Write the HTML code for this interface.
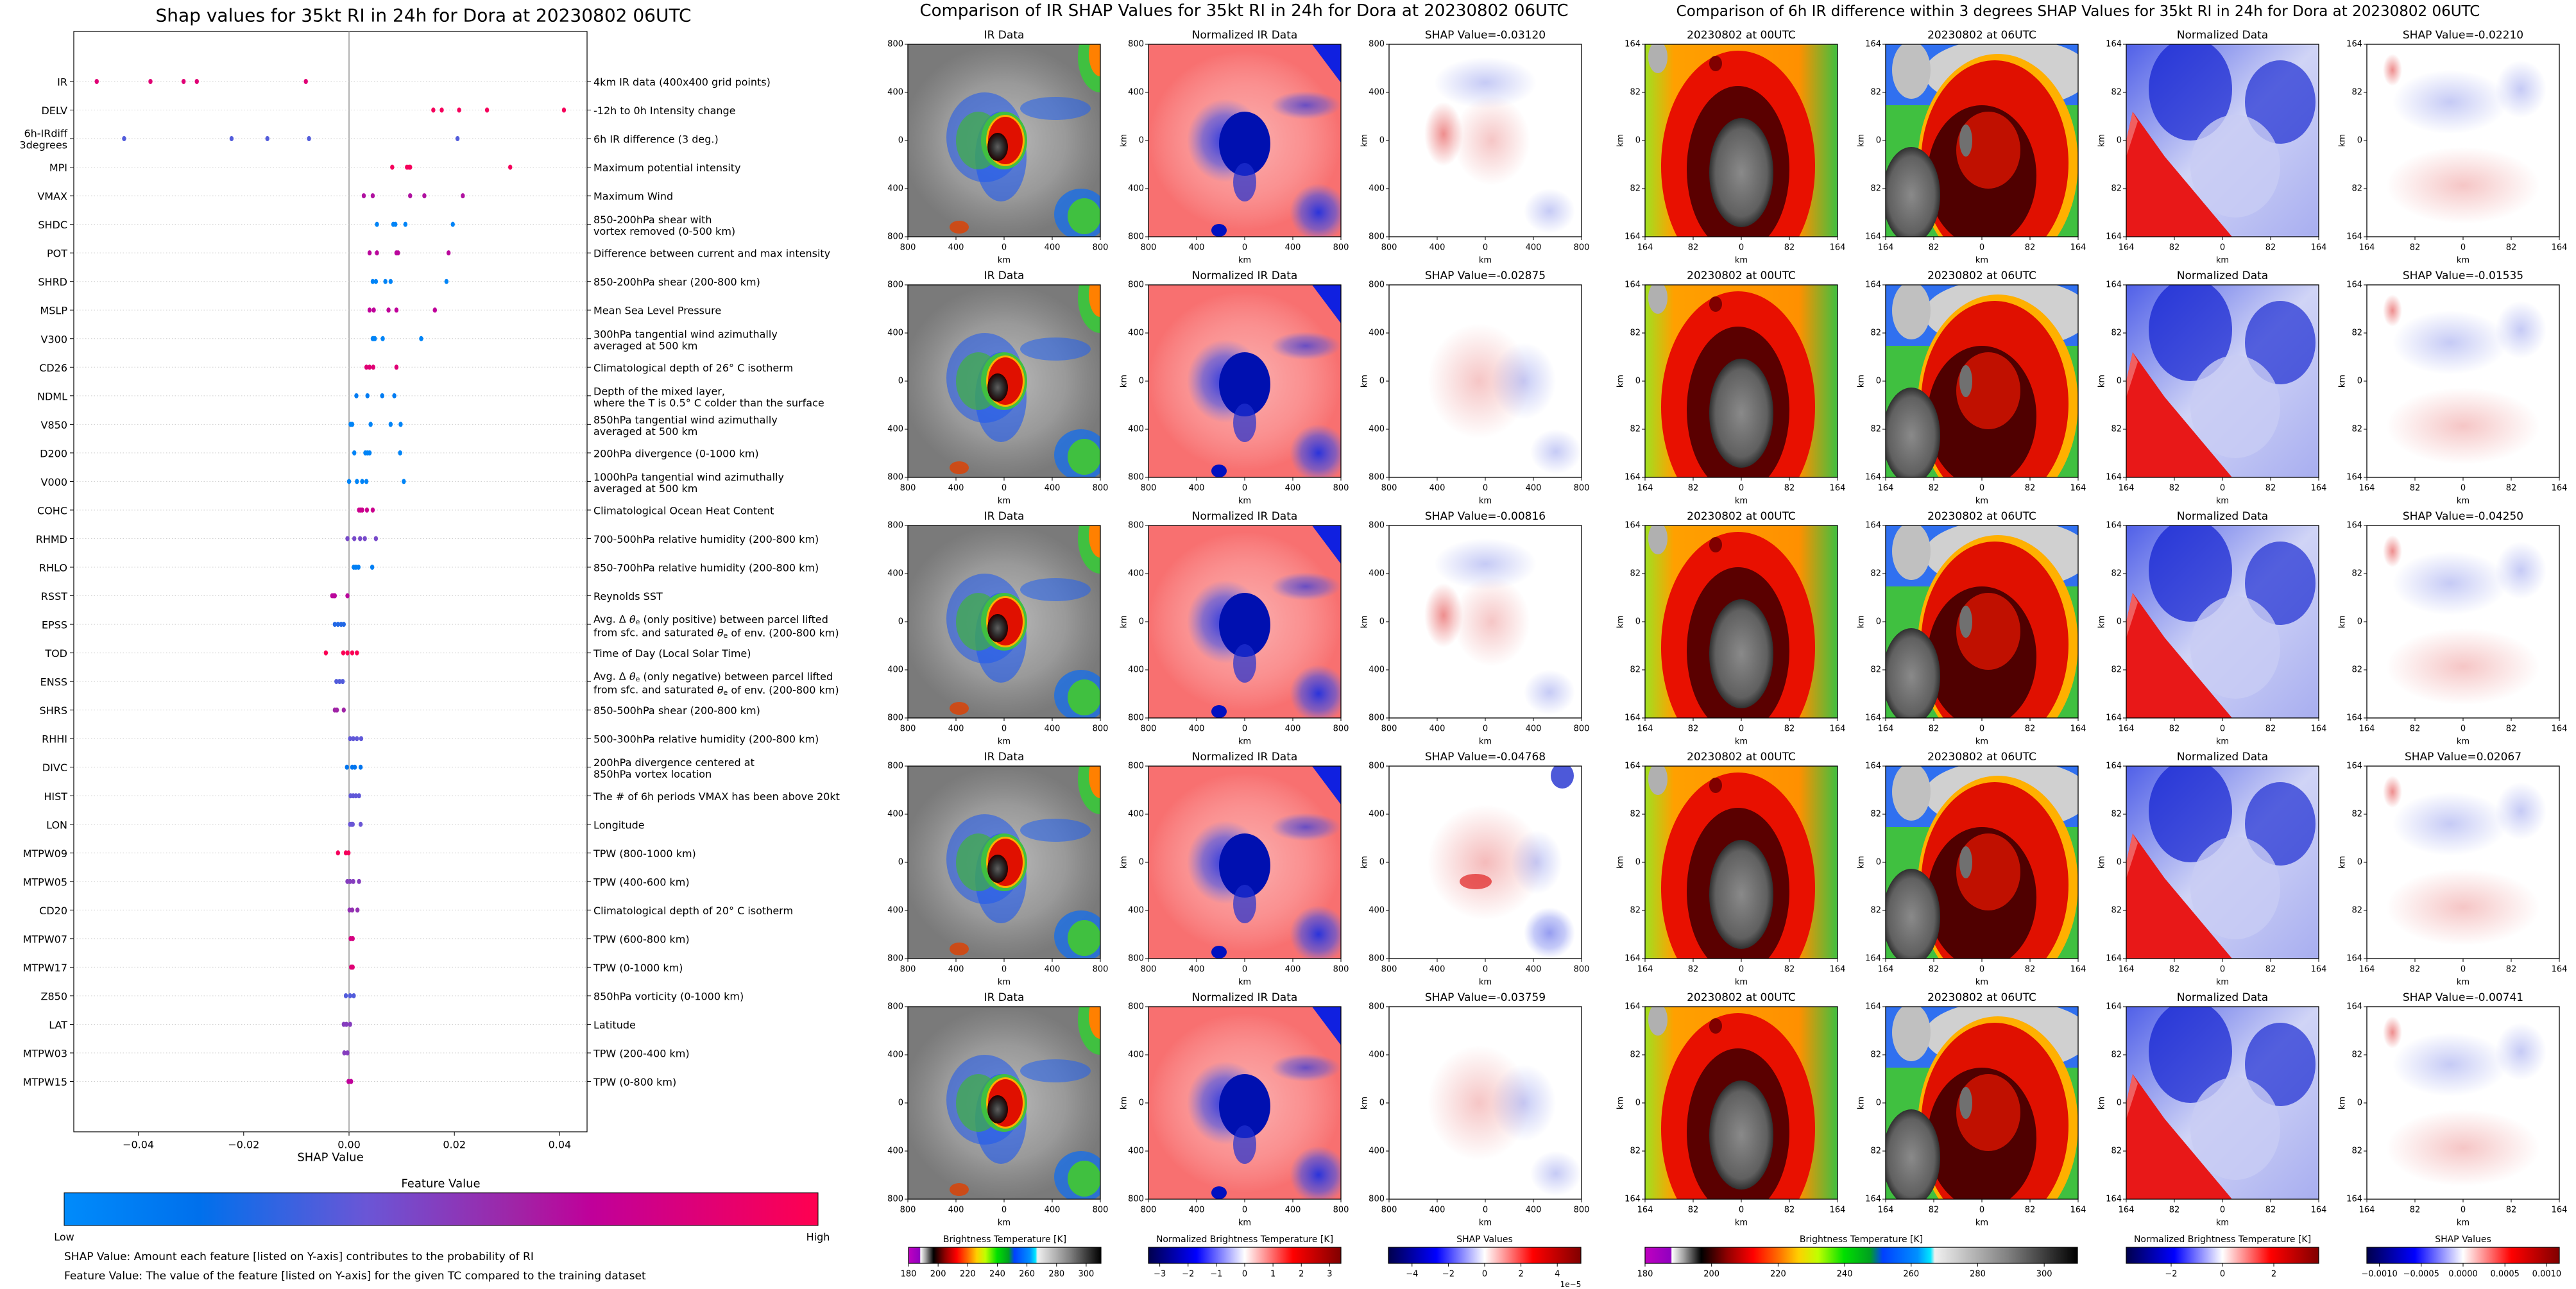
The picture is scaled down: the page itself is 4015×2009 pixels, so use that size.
<!DOCTYPE html>
<html><head><meta charset="utf-8">
<style>
html,body{margin:0;padding:0;background:#fff;}
svg{display:block;}
text{font-family:"DejaVu Sans","Liberation Sans",sans-serif;fill:#000;}
</style></head>
<body>
<svg id="s" width="4015" height="2009" viewBox="0 0 4015 2009" xmlns="http://www.w3.org/2000/svg">
<defs>
<clipPath id="pc"><rect x="0" y="0" width="300" height="300"/></clipPath>
<radialGradient id="haloW"><stop offset="0" stop-color="#d8d8d8" stop-opacity="0.7"/><stop offset="0.6" stop-color="#c0c0c0" stop-opacity="0.45"/><stop offset="1" stop-color="#b0b0b0" stop-opacity="0"/></radialGradient>
<radialGradient id="haloN"><stop offset="0" stop-color="#ffffff" stop-opacity="0.45"/><stop offset="0.6" stop-color="#ffe0e0" stop-opacity="0.3"/><stop offset="1" stop-color="#ffffff" stop-opacity="0"/></radialGradient>
<radialGradient id="blueSoft"><stop offset="0" stop-color="#2030e0" stop-opacity="0.95"/><stop offset="0.6" stop-color="#4050e8" stop-opacity="0.6"/><stop offset="1" stop-color="#6070f0" stop-opacity="0"/></radialGradient>
<radialGradient id="redSoft"><stop offset="0" stop-color="#e03030" stop-opacity="0.55"/><stop offset="1" stop-color="#e03030" stop-opacity="0"/></radialGradient>
<radialGradient id="blueFaint"><stop offset="0" stop-color="#4050e0" stop-opacity="0.3"/><stop offset="1" stop-color="#4050e0" stop-opacity="0"/></radialGradient>
<radialGradient id="redFaint"><stop offset="0" stop-color="#e04040" stop-opacity="0.3"/><stop offset="1" stop-color="#e04040" stop-opacity="0"/></radialGradient>
<radialGradient id="core"><stop offset="0" stop-color="#606060"/><stop offset="0.5" stop-color="#303030"/><stop offset="1" stop-color="#200000"/></radialGradient>
<radialGradient id="grayCore"><stop offset="0" stop-color="#8a8a8a"/><stop offset="0.8" stop-color="#606060"/><stop offset="1" stop-color="#303030"/></radialGradient>
<linearGradient id="bg00" x1="0" y1="0" x2="1" y2="0"><stop offset="0" stop-color="#a0e020"/><stop offset="0.15" stop-color="#ffa000"/><stop offset="0.8" stop-color="#ff9000"/><stop offset="1" stop-color="#40c040"/></linearGradient>
<linearGradient id="bgN" x1="0" y1="0" x2="1" y2="1"><stop offset="0" stop-color="#5060e8"/><stop offset="0.5" stop-color="#d0d4f6"/><stop offset="1" stop-color="#a8aef0"/></linearGradient>
<linearGradient id="featCb" x1="0" y1="0" x2="1" y2="0"><stop offset="0" stop-color="#008bfb"/><stop offset="0.18" stop-color="#0070ec"/><stop offset="0.4" stop-color="#6a56d6"/><stop offset="0.6" stop-color="#a024a6"/><stop offset="0.7" stop-color="#c0009a"/><stop offset="1" stop-color="#ff0050"/></linearGradient>
<linearGradient id="irCb" x1="0" y1="0" x2="1" y2="0">
<stop offset="0" stop-color="#c000c0"/><stop offset="0.06" stop-color="#9000c0"/><stop offset="0.062" stop-color="#ffffff"/><stop offset="0.09" stop-color="#a0a0a0"/><stop offset="0.13" stop-color="#000000"/><stop offset="0.19" stop-color="#900000"/><stop offset="0.25" stop-color="#ff0000"/><stop offset="0.31" stop-color="#ff7000"/><stop offset="0.355" stop-color="#ffd000"/><stop offset="0.4" stop-color="#c0ff00"/><stop offset="0.46" stop-color="#00e000"/><stop offset="0.52" stop-color="#00a020"/><stop offset="0.55" stop-color="#0040ff"/><stop offset="0.63" stop-color="#0090ff"/><stop offset="0.66" stop-color="#00e8ff"/><stop offset="0.67" stop-color="#f0f0f0"/><stop offset="0.84" stop-color="#808080"/><stop offset="1" stop-color="#000000"/></linearGradient>
<linearGradient id="seis" x1="0" y1="0" x2="1" y2="0"><stop offset="0" stop-color="#00004c"/><stop offset="0.25" stop-color="#0000ff"/><stop offset="0.5" stop-color="#ffffff"/><stop offset="0.75" stop-color="#ff0000"/><stop offset="1" stop-color="#800000"/></linearGradient>

<g id="imgIR" clip-path="url(#pc)">
<rect width="300" height="300" fill="#7a7a7a"/>
<ellipse cx="150" cy="150" rx="160" ry="150" fill="url(#haloW)"/>
<ellipse cx="120" cy="145" rx="60" ry="70" fill="#1c58f0" opacity="0.55"/>
<ellipse cx="145" cy="175" rx="40" ry="70" fill="#1c58f0" opacity="0.6"/>
<ellipse cx="110" cy="150" rx="35" ry="45" fill="#40b040" opacity="0.7"/>
<ellipse cx="150" cy="150" rx="36" ry="45" fill="#40c040"/>
<ellipse cx="152" cy="150" rx="30" ry="40" fill="#ffb000"/>
<ellipse cx="152" cy="150" rx="27" ry="37" fill="#e01000"/>
<ellipse cx="140" cy="160" rx="16" ry="22" fill="url(#core)"/>
<ellipse cx="300" cy="20" rx="35" ry="55" fill="#40c040"/>
<ellipse cx="300" cy="15" rx="18" ry="35" fill="#ff8000"/>
<ellipse cx="270" cy="265" rx="42" ry="40" fill="#2070e0" opacity="0.85"/>
<ellipse cx="275" cy="268" rx="26" ry="28" fill="#40c040"/>
<ellipse cx="230" cy="100" rx="55" ry="18" fill="#2060f0" opacity="0.55"/>
<ellipse cx="80" cy="285" rx="15" ry="10" fill="#e04000" opacity="0.8"/>
</g>
<g id="imgNorm" clip-path="url(#pc)">
<rect width="300" height="300" fill="#f87070"/>
<ellipse cx="150" cy="150" rx="150" ry="140" fill="url(#haloN)"/>
<ellipse cx="120" cy="150" rx="60" ry="65" fill="url(#blueSoft)"/>
<ellipse cx="150" cy="155" rx="40" ry="50" fill="#0010b0"/>
<ellipse cx="150" cy="215" rx="18" ry="30" fill="#2030d0" opacity="0.7"/>
<polygon points="255,0 300,0 300,60" fill="#1020e0"/>
<ellipse cx="265" cy="262" rx="45" ry="45" fill="url(#blueSoft)"/>
<ellipse cx="245" cy="95" rx="55" ry="22" fill="url(#blueSoft)" opacity="0.7"/>
<ellipse cx="110" cy="290" rx="12" ry="10" fill="#0010c0"/>
</g>
<g id="imgShapA" clip-path="url(#pc)">
<rect width="300" height="300" fill="#ffffff"/>
<ellipse cx="85" cy="140" rx="30" ry="50" fill="url(#redSoft)"/>
<ellipse cx="160" cy="150" rx="60" ry="70" fill="url(#redFaint)"/>
<ellipse cx="150" cy="60" rx="80" ry="40" fill="url(#blueFaint)"/>
<ellipse cx="250" cy="260" rx="40" ry="35" fill="url(#blueFaint)"/>
</g>
<g id="imgShapB" clip-path="url(#pc)">
<rect width="300" height="300" fill="#ffffff"/>
<ellipse cx="140" cy="150" rx="80" ry="90" fill="url(#redFaint)"/>
<ellipse cx="210" cy="150" rx="50" ry="60" fill="url(#blueFaint)"/>
<ellipse cx="260" cy="260" rx="40" ry="35" fill="url(#blueFaint)"/>
</g>
<g id="imgShapC" clip-path="url(#pc)">
<rect width="300" height="300" fill="#ffffff"/>
<ellipse cx="150" cy="150" rx="90" ry="90" fill="url(#redSoft)" opacity="0.6"/>
<ellipse cx="135" cy="180" rx="25" ry="12" fill="#e02020" opacity="0.7"/>
<ellipse cx="230" cy="150" rx="40" ry="50" fill="url(#blueFaint)"/>
<ellipse cx="270" cy="15" rx="18" ry="20" fill="#2030d0" opacity="0.8"/>
<ellipse cx="250" cy="260" rx="40" ry="40" fill="url(#blueSoft)" opacity="0.5"/>
</g>
<g id="imgIR00" clip-path="url(#pc)">
<rect width="300" height="300" fill="url(#bg00)"/>
<ellipse cx="145" cy="190" rx="120" ry="180" fill="#e81000"/>
<ellipse cx="145" cy="195" rx="80" ry="130" fill="#5a0000"/>
<ellipse cx="150" cy="200" rx="50" ry="85" fill="url(#grayCore)"/>
<ellipse cx="20" cy="20" rx="15" ry="25" fill="#b0b0b0"/>
<ellipse cx="110" cy="30" rx="10" ry="12" fill="#800000"/>
</g>
<g id="imgIR06" clip-path="url(#pc)">
<rect width="300" height="300" fill="#40c040"/>
<rect width="300" height="95" fill="#3070f0"/>
<ellipse cx="190" cy="45" rx="130" ry="55" fill="#d0d0d0"/>
<ellipse cx="40" cy="40" rx="30" ry="45" fill="#c0c0c0"/>
<ellipse cx="175" cy="185" rx="125" ry="170" fill="#ffb000"/>
<ellipse cx="170" cy="185" rx="115" ry="160" fill="#e01000"/>
<ellipse cx="150" cy="205" rx="85" ry="110" fill="#500000"/>
<ellipse cx="160" cy="165" rx="50" ry="60" fill="#c01000"/>
<ellipse cx="40" cy="235" rx="45" ry="75" fill="url(#grayCore)"/>
<ellipse cx="125" cy="150" rx="10" ry="25" fill="#707070"/>
</g>
<g id="imgNormD" clip-path="url(#pc)">
<rect width="300" height="300" fill="url(#bgN)"/>
<ellipse cx="100" cy="70" rx="65" ry="80" fill="#1020d0" opacity="0.7"/>
<ellipse cx="240" cy="90" rx="55" ry="65" fill="#1020d0" opacity="0.65"/>
<ellipse cx="170" cy="190" rx="70" ry="80" fill="#c8ccf4" opacity="0.8"/>
<polygon points="0,150 0,300 165,300 60,175 10,105" fill="#e81818"/>
<polygon points="0,150 10,105 18,120 0,175" fill="#f06060"/>
</g>
<g id="imgShapD" clip-path="url(#pc)">
<rect width="300" height="300" fill="#ffffff"/>
<ellipse cx="40" cy="40" rx="15" ry="25" fill="url(#redSoft)"/>
<ellipse cx="130" cy="90" rx="90" ry="50" fill="url(#blueFaint)"/>
<ellipse cx="240" cy="70" rx="40" ry="45" fill="url(#blueFaint)"/>
<ellipse cx="150" cy="220" rx="120" ry="60" fill="url(#redFaint)"/>
</g>
</defs>
</svg>
<script>
// ===== SHAP summary chart data =====
const features = ["IR","DELV","6h-IRdiff|3degrees","MPI","VMAX","SHDC","POT","SHRD","MSLP","V300","CD26","NDML","V850","D200","V000","COHC","RHMD","RHLO","RSST","EPSS","TOD","ENSS","SHRS","RHHI","DIVC","HIST","LON","MTPW09","MTPW05","CD20","MTPW07","MTPW17","Z850","LAT","MTPW03","MTPW15"];
const descriptions = ["4km IR data (400x400 grid points)","-12h to 0h Intensity change","6h IR difference (3 deg.)","Maximum potential intensity","Maximum Wind","850-200hPa shear with|vortex removed (0-500 km)","Difference between current and max intensity","850-200hPa shear (200-800 km)","Mean Sea Level Pressure","300hPa tangential wind azimuthally|averaged at 500 km","Climatological depth of 26° C isotherm","Depth of the mixed layer,|where the T is 0.5° C colder than the surface","850hPa tangential wind azimuthally|averaged at 500 km","200hPa divergence (0-1000 km)","1000hPa tangential wind azimuthally|averaged at 500 km","Climatological Ocean Heat Content","700-500hPa relative humidity (200-800 km)","850-700hPa relative humidity (200-800 km)","Reynolds SST","THETA+","Time of Day (Local Solar Time)","THETA-","850-500hPa shear (200-800 km)","500-300hPa relative humidity (200-800 km)","200hPa divergence centered at|850hPa vortex location","The # of 6h periods VMAX has been above 20kt","Longitude","TPW (800-1000 km)","TPW (400-600 km)","Climatological depth of 20° C isotherm","TPW (600-800 km)","TPW (0-1000 km)","850hPa vorticity (0-1000 km)","Latitude","TPW (200-400 km)","TPW (0-800 km)"];
const shapValues = [
 [-0.0479,-0.0377,-0.0314,-0.0289,-0.0082],
 [0.0160,0.0176,0.0209,0.0262,0.0408],
 [-0.0427,-0.0223,-0.0155,-0.0076,0.0206],
 [0.0082,0.0110,0.0114,0.0116,0.0306],
 [0.0028,0.0045,0.0116,0.0143,0.0216],
 [0.0053,0.0084,0.0088,0.0107,0.0197],
 [0.0039,0.0053,0.0090,0.0093,0.0189],
 [0.0045,0.0051,0.0069,0.0079,0.0185],
 [0.0039,0.0047,0.0075,0.0090,0.0163],
 [0.0045,0.0047,0.0049,0.0064,0.0137],
 [0.0033,0.0039,0.0046,0.0090],
 [0.0014,0.0035,0.0063,0.0086],
 [0.0003,0.0006,0.0041,0.0079,0.0098],
 [0.0010,0.0031,0.0035,0.0039,0.0097],
 [0.0000,0.0015,0.0025,0.0033,0.0104],
 [0.0019,0.0022,0.0025,0.0034,0.0045],
 [-0.0003,0.0010,0.0021,0.0030,0.0051],
 [0.0009,0.0013,0.0018,0.0044],
 [-0.0032,-0.0029,-0.0027,-0.0003],
 [-0.0027,-0.0021,-0.0015,-0.0010],
 [-0.0044,-0.0011,-0.0003,0.0006,0.0015],
 [-0.0024,-0.0018,-0.0012],
 [-0.0027,-0.0023,-0.0010],
 [0.0002,0.0008,0.0015,0.0023],
 [-0.0004,0.0006,0.0011,0.0022],
 [0.0003,0.0008,0.0013,0.0019],
 [0.0002,0.0005,0.0007,0.0022],
 [-0.0021,-0.0006,-0.0001],
 [-0.0003,0.0002,0.0008,0.0019],
 [0.0001,0.0006,0.0016],
 [0.0003,0.0007],
 [0.0004,0.0007],
 [-0.0006,0.0002,0.0009],
 [-0.0010,-0.0005,0.0002],
 [-0.0009,-0.0003],
 [-0.0001,0.0004]
];
const featureValues = [0.85,0.95,0.35,0.95,0.65,0.05,0.68,0.05,0.7,0.05,0.85,0.1,0.05,0.05,0.05,0.75,0.45,0.08,0.68,0.25,0.98,0.35,0.6,0.38,0.15,0.38,0.4,0.95,0.5,0.55,0.8,0.85,0.35,0.5,0.5,0.7];
const xTicks = [-0.04,-0.02,0.00,0.02,0.04];
const xTickLabels = ["\u22120.04","\u22120.02","0.00","0.02","0.04"];

// ===== image panel data =====
const irShapTitles = ["-0.03120","-0.02875","-0.00816","-0.04768","-0.03759"];
const diffShapTitles = ["-0.02210","-0.01535","-0.04250","0.02067","-0.00741"];
const kmTicks800 = ["800","400","0","400","800"];
const kmTicks164 = ["164","82","0","82","164"];
const cbIRTicks = [180,200,220,240,260,280,300];
const cbNormTicks1 = [-3,-2,-1,0,1,2,3];
const cbShapTicks1 = [-4,-2,0,2,4];
const cbNormTicks2 = [-2,0,2];
const cbShapTicks2 = [-0.0010,-0.0005,0.0000,0.0005,0.0010];

const NS = "http://www.w3.org/2000/svg";
const svg = document.getElementById('s');
function mk(tag, attrs, parent) {
  const e = document.createElementNS(NS, tag);
  for (const k in attrs) e.setAttribute(k, attrs[k]);
  (parent || svg).appendChild(e);
  return e;
}
function txt(s, x, y, size, anchor, parent, extra) {
  const a = {x: x, y: y, 'font-size': size, 'text-anchor': anchor || 'middle', 'dominant-baseline': 'central'};
  if (extra) for (const k in extra) a[k] = extra[k];
  const t = mk('text', a, parent);
  t.textContent = s;
  return t;
}
function colorFor(v) {
  const stops = [[0,[0,139,251]],[0.18,[0,112,236]],[0.4,[106,86,214]],[0.6,[160,36,166]],[0.7,[192,0,154]],[1,[255,0,80]]];
  for (let i = 1; i < stops.length; i++) {
    if (v <= stops[i][0]) {
      const t = (v - stops[i-1][0]) / (stops[i][0] - stops[i-1][0]);
      const c = stops[i-1][1].map((a, j) => Math.round(a + (stops[i][1][j] - a) * t));
      return 'rgb(' + c.join(',') + ')';
    }
  }
  return 'rgb(255,0,80)';
}

// ===== Left SHAP summary chart =====
const AX = {l: 115, r: 915, t: 49, b: 1764};
const rowY0 = 127, rowStep = 44.53;
function xScale(v) { return 544 + v * 8210; }
function yScale(i) { return rowY0 + i * rowStep; }

const left = mk('g', {});



const ttl = txt('Shap values for 35kt RI in 24h for Dora at 20230802 06UTC', 660, 24, 28, 'middle', left);



const frame = mk('rect', {x: AX.l, y: AX.t, width: AX.r - AX.l, height: AX.b - AX.t, fill: 'none', stroke: '#000', 'stroke-width': 1.2}, left);



const zl = mk('line', {x1: xScale(0), x2: xScale(0), y1: AX.t, y2: AX.b, stroke: '#999', 'stroke-width': 1.5}, left);



features.forEach((f, i) => {
  const y = yScale(i);
  const g = mk('g', {}, left);
  
  
  mk('line', {x1: AX.l, x2: AX.r, y1: y, y2: y, stroke: '#ccc', 'stroke-width': 1, 'stroke-dasharray': '1.5,3'}, g);
  mk('line', {x1: AX.l - 6, x2: AX.l, y1: y, y2: y, stroke: '#000', 'stroke-width': 1}, g);
  mk('line', {x1: AX.r, x2: AX.r + 6, y1: y, y2: y, stroke: '#000', 'stroke-width': 1}, g);
  const parts = f.split('|');
  if (parts.length === 1) {
    const lt = txt(parts[0], AX.l - 10, y + 1, 16, 'end', g);
    
    
  } else {
    const lt1 = txt(parts[0], AX.l - 10, y - 8, 16, 'end', g);
    
    
    const lt2 = txt(parts[1], AX.l - 10, y + 10, 16, 'end', g);
    
    
  }
  const d = descriptions[i];
  if (d === 'THETA+' || d === 'THETA-') {
    const word = d === 'THETA+' ? 'positive' : 'negative';
    const t1 = mk('text', {x: AX.r + 10, y: y - 8, 'font-size': 16, 'dominant-baseline': 'central'}, g);
    t1.innerHTML = 'Avg. Δ <tspan font-style="italic">θ</tspan><tspan font-size="11" dy="4">e</tspan><tspan dy="-4"> (only ' + word + ') between parcel lifted</tspan>';
    
    
    const t2 = mk('text', {x: AX.r + 10, y: y + 13, 'font-size': 16, 'dominant-baseline': 'central'}, g);
    t2.innerHTML = 'from sfc. and saturated <tspan font-style="italic">θ</tspan><tspan font-size="11" dy="4">e</tspan><tspan dy="-4"> of env. (200-800 km)</tspan>';
    
    
  } else {
    const dp = d.split('|');
    if (dp.length === 1) {
      const dt = txt(dp[0], AX.r + 10, y + 1, 16, 'start', g);
      
      
    } else {
      const dt1 = txt(dp[0], AX.r + 10, y - 7, 16, 'start', g);
      
      
      const dt2 = txt(dp[1], AX.r + 10, y + 11, 16, 'start', g);
      
      
    }
  }
  shapValues[i].forEach(v => {
    const c = mk('ellipse', {cx: xScale(v), cy: y, rx: 3.2, ry: 4, fill: colorFor(featureValues[i])}, g);
    
    
  });
});

xTicks.forEach((v, i) => {
  mk('line', {x1: xScale(v), x2: xScale(v), y1: AX.b, y2: AX.b + 6, stroke: '#000', 'stroke-width': 1}, left);
  const tl = txt(xTickLabels[i], xScale(v), AX.b + 20, 16, 'middle', left);
  
  
});
const xt = txt('SHAP Value', 515, 1804, 18, 'middle', left);



const fvt = txt('Feature Value', 687, 1845, 18, 'middle', left);


const fcb = mk('rect', {x: 100, y: 1859, width: 1175, height: 51, fill: 'url(#featCb)', stroke: '#000', 'stroke-width': 1}, left);


const lo = txt('Low', 100, 1928, 16, 'middle', left);


const hi = txt('High', 1275, 1928, 16, 'middle', left);


const n1 = txt('SHAP Value: Amount each feature [listed on Y-axis] contributes to the probability of RI', 100, 1959, 17, 'start', left);


const n2 = txt('Feature Value: The value of the feature [listed on Y-axis] for the given TC compared to the training dataset', 100, 1989, 17, 'start', left);



// ===== Image panels =====
const mt = txt('Comparison of IR SHAP Values for 35kt RI in 24h for Dora at 20230802 06UTC', 1939, 17, 26, 'middle');


const rt = txt('Comparison of 6h IR difference within 3 degrees SHAP Values for 35kt RI in 24h for Dora at 20230802 06UTC', 3239, 18, 23, 'middle');



const colX = [1415, 1790, 2165, 2564, 2939, 3314, 3689];
const rowTop = [69, 444, 819, 1194, 1569];
const shapImgs = ['#imgShapA', '#imgShapB', '#imgShapA', '#imgShapC', '#imgShapB'];

function panel(x, y, img, title, ticks, ylab, name) {
  const g = mk('g', {});
  
  
  const u = mk('use', {href: img, x: x, y: y}, g);
  
  
  mk('rect', {x: x, y: y, width: 300, height: 300, fill: 'none', stroke: '#000', 'stroke-width': 1.3}, g);
  const pt = txt(title, x + 150, y - 14, 17, 'middle', g);
  
  
  ticks.forEach((s, k) => {
    const yy = y + k * 75, xx = x + k * 75;
    mk('line', {x1: x - 5, x2: x, y1: yy, y2: yy, stroke: '#000'}, g);
    txt(s, x - 7, yy, 13, 'end', g);
    mk('line', {x1: xx, x2: xx, y1: y + 300, y2: y + 305, stroke: '#000'}, g);
    txt(s, xx, y + 317, 13, 'middle', g);
  });
  txt('km', x + 150, y + 337, 13, 'middle', g);
  if (ylab) txt('km', x - 38, y + 150, 13, 'middle', g, {transform: 'rotate(-90 ' + (x - 38) + ' ' + (y + 150) + ')'});
}

rowTop.forEach((y, r) => {
  panel(colX[0], y, '#imgIR', 'IR Data', kmTicks800, false, 'ir-data-panel');
  panel(colX[1], y, '#imgNorm', 'Normalized IR Data', kmTicks800, true, 'normalized-ir-panel');
  panel(colX[2], y, shapImgs[r], 'SHAP Value=' + irShapTitles[r], kmTicks800, true, 'ir-shap-panel');
  panel(colX[3], y, '#imgIR00', '20230802 at 00UTC', kmTicks164, true, 'ir-00utc-panel');
  panel(colX[4], y, '#imgIR06', '20230802 at 06UTC', kmTicks164, true, 'ir-06utc-panel');
  panel(colX[5], y, '#imgNormD', 'Normalized Data', kmTicks164, true, 'normalized-diff-panel');
  panel(colX[6], y, '#imgShapD', 'SHAP Value=' + diffShapTitles[r], kmTicks164, true, 'diff-shap-panel');
});

// ===== Colorbars =====
function colorbar(x, w, grad, title, ticks, vmin, vmax, fmt, name) {
  const g = mk('g', {});
  
  
  txt(title, x + w / 2, 1932, 14, 'middle', g);
  mk('rect', {x: x, y: 1944, width: w, height: 25, fill: 'url(#' + grad + ')', stroke: '#000', 'stroke-width': 1.2}, g);
  ticks.forEach(v => {
    const xx = x + (v - vmin) / (vmax - vmin) * w;
    mk('line', {x1: xx, x2: xx, y1: 1969, y2: 1974, stroke: '#000'}, g);
    txt(fmt(v), xx, 1986, 13, 'middle', g);
  });
}
const fInt = v => (v < 0 ? '\u2212' + Math.abs(v) : String(v));
const f4 = v => (v < 0 ? '\u2212' + Math.abs(v).toFixed(4) : v.toFixed(4));
colorbar(1416, 300, 'irCb', 'Brightness Temperature [K]', cbIRTicks, 180, 310, fInt, 'ir-colorbar');
colorbar(1790, 300, 'seis', 'Normalized Brightness Temperature [K]', cbNormTicks1, -3.4, 3.4, fInt, 'normalized-colorbar');
colorbar(2164, 300, 'seis', 'SHAP Values', cbShapTicks1, -5.3, 5.3, fInt, 'shap-colorbar');
const off = txt('1e\u22125', 2448, 2002, 12, 'middle');


colorbar(2564, 674, 'irCb', 'Brightness Temperature [K]', cbIRTicks, 180, 310, fInt, 'diff-ir-colorbar');
colorbar(3314, 300, 'seis', 'Normalized Brightness Temperature [K]', cbNormTicks2, -3.75, 3.75, fInt, 'diff-normalized-colorbar');
colorbar(3689, 300, 'seis', 'SHAP Values', cbShapTicks2, -0.00115, 0.00115, f4, 'diff-shap-colorbar');
</script>
</body></html>
